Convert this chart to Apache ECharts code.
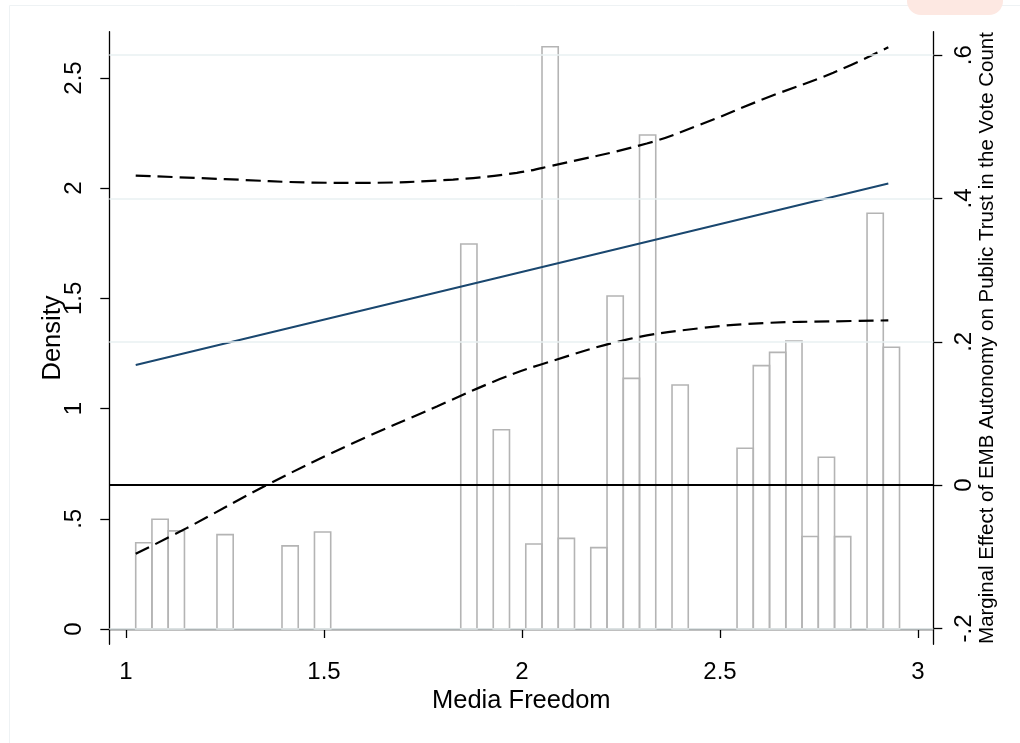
<!DOCTYPE html>
<html>
<head>
<meta charset="utf-8">
<script src="https://cdn.jsdelivr.net/npm/echarts@6/dist/echarts.min.js"></script>
<style>
html,body{margin:0;padding:0;background:#fff;}
#chart{width:1020px;height:743px;}
</style>
</head>
<body>
<div id="chart"></div>
<script>
// ---- Histogram of Media Freedom (left axis: Density) ----
const binWidth = 0.0410;
const binLefts = [1.0245, 1.0655, 1.1066, 1.2297, 1.3939, 1.4759, 1.8453, 1.9274,
  2.0095, 2.0505, 2.0915, 2.1736, 2.2147, 2.2557, 2.2967, 2.3788,
  2.5430, 2.5840, 2.6251, 2.6661, 2.7071, 2.7482, 2.7892, 2.8713, 2.9123];
const binDensity = [0.391, 0.498, 0.445, 0.428, 0.377, 0.440, 1.747, 0.904,
  0.386, 2.642, 0.411, 0.369, 1.511, 1.137, 2.241, 1.107,
  0.820, 1.195, 1.255, 1.307, 0.420, 0.779, 0.419, 1.886, 1.278];

// ---- Marginal effect (right axis) ----
const meX = [1.0245, 1.944, 2.925];
const meY = [0.1676, 0.2901, 0.4208];

const upperX = [1.0245, 1.25, 1.472, 1.591, 1.826, 1.987, 2.07, 2.315, 2.45, 2.618, 2.786, 2.925];
const upperY = [0.432, 0.427, 0.4222, 0.4218, 0.4264, 0.4358, 0.445, 0.4767, 0.503, 0.5405, 0.5754, 0.611];

const lowerX = [1.0245, 1.153, 1.355, 1.574, 1.785, 1.944, 2.046, 2.264, 2.45, 2.618, 2.786, 2.925];
const lowerY = [-0.0959, -0.060, 0.0, 0.0587, 0.1098, 0.148, 0.168, 0.203, 0.219, 0.2263, 0.2285, 0.2299];

// ---- Axis ticks / labels ----
const xTicks = [1, 1.5, 2, 2.5, 3];
const xTickLabels = ['1', '1.5', '2', '2.5', '3'];
const leftTicks = [0, 0.5, 1, 1.5, 2, 2.5];
const leftTickLabels = ['0', '.5', '1', '1.5', '2', '2.5'];
const rightTicks = [-0.2, 0, 0.2, 0.4, 0.6];
const rightTickLabels = ['-.2', '0', '.2', '.4', '.6'];
const gridLevels = [-0.2, 0.2, 0.4, 0.6];

const xTitle = 'Media Freedom';
const leftTitle = 'Density';
const rightTitle = 'Marginal Effect of EMB Autonomy on Public Trust in the Vote Count';

const FONT = "'Liberation Sans', Arial, Helvetica, sans-serif";

function labelFor(ticks, labels) {
  return function (v) {
    for (let i = 0; i < ticks.length; i++) {
      if (Math.abs(ticks[i] - v) < 1e-6) return labels[i];
    }
    return '';
  };
}
function pairs(xs, ys) { return xs.map((x, i) => [x, ys[i]]); }

const chart = echarts.init(document.getElementById('chart'), null, {renderer: 'canvas'});

const option = {
  backgroundColor: '#ffffff',
  animation: false,
  textStyle: {fontFamily: FONT},
  graphic: [
    {type: 'rect', z: -10, silent: true,
     shape: {x: 9.5, y: 5.5, width: 1040, height: 760},
     style: {fill: 'none', stroke: '#eef2f4', lineWidth: 1}},
    {type: 'rect', z: -9, silent: true,
     shape: {x: 907, y: -14, width: 96, height: 29, r: 14},
     style: {fill: '#fde8e2'}}
  ],
  grid: {left: 109.3, right: 86.7, top: 31.7, bottom: 98.7, containLabel: false},
  xAxis: {
    type: 'value', min: 0.9578, max: 3.0386,
    name: xTitle, nameLocation: 'middle', nameGap: 44, nameMoveOverlap: false,
    nameTextStyle: {fontSize: 25.5, color: '#000', fontFamily: FONT},
    axisLine: {show: true, lineStyle: {color: '#000', width: 1.3}},
    axisTick: {show: true, length: 9, customValues: xTicks, lineStyle: {color: '#000', width: 1.3}},
    axisLabel: {show: true, customValues: xTicks, formatter: labelFor(xTicks, xTickLabels),
      fontSize: 24, color: '#000', margin: 16, fontFamily: FONT},
    splitLine: {show: false}
  },
  yAxis: [
    {
      type: 'value', position: 'left', min: -0.0694, max: 2.710,
      name: leftTitle, nameLocation: 'middle', nameGap: 43, nameRotate: 90, nameMoveOverlap: false,
      nameTextStyle: {fontSize: 25.5, color: '#000', fontFamily: FONT},
      axisLine: {show: true, lineStyle: {color: '#000', width: 1.3}},
      axisTick: {show: true, length: 9, customValues: leftTicks, lineStyle: {color: '#000', width: 1.3}},
      axisLabel: {show: true, customValues: leftTicks, formatter: labelFor(leftTicks, leftTickLabels),
        rotate: 90, fontSize: 24, color: '#000', margin: 23, fontFamily: FONT},
      splitLine: {show: false}
    },
    {
      type: 'value', position: 'right', min: -0.2221, max: 0.6327,
      name: rightTitle, nameLocation: 'middle', nameGap: 44, nameRotate: 90, nameMoveOverlap: false,
      nameTextStyle: {fontSize: 20.5, color: '#000', fontFamily: FONT},
      axisLine: {show: true, lineStyle: {color: '#000', width: 1.3}},
      axisTick: {show: true, length: 9, customValues: rightTicks, lineStyle: {color: '#000', width: 1.3}},
      axisLabel: {show: true, customValues: rightTicks, formatter: labelFor(rightTicks, rightTickLabels),
        rotate: 90, fontSize: 24, color: '#000', margin: 19, fontFamily: FONT},
      splitLine: {show: false}
    }
  ],
  series: [
    {
      name: 'grid', type: 'line', yAxisIndex: 1, data: [], z: 1, silent: true,
      markLine: {
        silent: true, symbol: ['none', 'none'], label: {show: false},
        lineStyle: {color: '#e8f0f2', width: 1.6, type: 'solid'},
        data: gridLevels.map(v => ({yAxis: v}))
      }
    },
    {
      name: 'hist', type: 'custom', yAxisIndex: 0, z: 2, silent: true,
      data: pairs(binLefts, binDensity),
      renderItem: function (params, api) {
        const x0 = api.value(0), h = api.value(1);
        const p0 = api.coord([x0, 0]);
        const p1 = api.coord([x0 + binWidth, h]);
        return {
          type: 'rect',
          shape: {x: p0[0], y: p1[1], width: p1[0] - p0[0], height: p0[1] - p1[1]},
          style: {fill: 'none', stroke: '#b4b4b4', lineWidth: 1.6}
        };
      }
    },
    {
      name: 'upper', type: 'line', yAxisIndex: 1, z: 3, smooth: 0.4, showSymbol: false, silent: true,
      data: pairs(upperX, upperY),
      lineStyle: {color: '#000', width: 2.2, type: [15, 7]}
    },
    {
      name: 'lower', type: 'line', yAxisIndex: 1, z: 3, smooth: 0.4, showSymbol: false, silent: true,
      data: pairs(lowerX, lowerY),
      lineStyle: {color: '#000', width: 2.2, type: [15, 7]}
    },
    {
      name: 'me', type: 'line', yAxisIndex: 1, z: 4, showSymbol: false, silent: true,
      data: pairs(meX, meY),
      lineStyle: {color: '#1a476f', width: 2},
      markLine: {
        silent: true, symbol: ['none', 'none'], label: {show: false},
        lineStyle: {color: '#000', width: 2, type: 'solid'},
        data: [{yAxis: 0}]
      }
    }
  ]
};
chart.setOption(option);
</script>
</body>
</html>
